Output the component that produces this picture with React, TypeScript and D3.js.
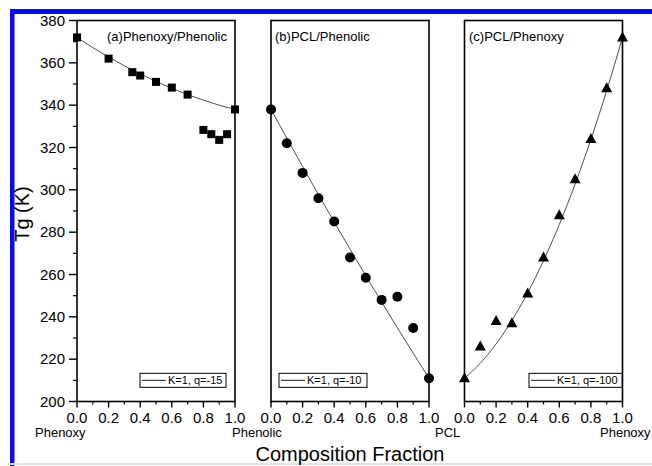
import React from "react";
import * as d3 from "d3";

// composition fraction, shared by all panels
const xTicks = [0, 0.2, 0.4, 0.6, 0.8, 1.0];
const yTicks = [200, 220, 240, 260, 280, 300, 320, 340, 360, 380];

// (a) Phenoxy/Phenolic
const aX = [0, 0.2, 0.35, 0.4, 0.5, 0.6, 0.7, 0.8, 0.85, 0.9, 0.95, 1.0];
const aTg = [372, 362, 355.6, 354, 351, 348.3, 345, 328.3, 326.3, 323.6, 326.3, 338];
// (b) PCL/Phenolic
const bX = [0, 0.1, 0.2, 0.3, 0.4, 0.5, 0.6, 0.7, 0.8, 0.9, 1.0];
const bTg = [338, 322, 308, 296, 285, 268, 258.5, 248, 249.5, 234.7, 211];
// (c) PCL/Phenoxy
const cX = [0, 0.1, 0.2, 0.3, 0.4, 0.5, 0.6, 0.7, 0.8, 0.9, 1.0];
const cTg = [211, 226, 238, 237, 251, 268, 288, 305, 324, 348, 372];

// Kwei fit curves
const fitX = [0, 0.1, 0.2, 0.3, 0.4, 0.5, 0.6, 0.7, 0.8, 0.9, 1.0];
const aFit = [372, 367.2, 362.8, 358.6, 354.8, 351.2, 348, 345, 342.4, 340, 338];
const bFit = [338, 324.4, 311, 297.8, 284.8, 272, 259.4, 247, 234.8, 222.8, 211];
const cFit = [211, 218.1, 227.2, 238.3, 251.4, 266.5, 283.6, 302.7, 323.8, 346.9, 372];

const titles = ["(a)Phenoxy/Phenolic", "(b)PCL/Phenolic", "(c)PCL/Phenoxy"];
const legends = ["K=1, q=-15", "K=1, q=-10", "K=1, q=-100"];
const endLabels = ["Phenoxy", "Phenolic", "PCL", "Phenoxy"];

const font = "Arial, 'Liberation Sans', sans-serif";

const panels = [
  { left: 77, xs: aX, ys: aTg, fit: aFit, marker: "square", titleX: 107, legX: 140, legW: 86 },
  { left: 271, xs: bX, ys: bTg, fit: bFit, marker: "circle", titleX: 275, legX: 279, legW: 88 },
  { left: 464.5, xs: cX, ys: cTg, fit: cFit, marker: "triangle", titleX: 469, legX: 529, legW: 93 },
];

const pw = 158;
const top = 20.5;
const bottom = 401.5;

const y = d3.scaleLinear().domain([200, 380]).range([bottom, top]);

function Marker({ kind, cx, cy }: { kind: string; cx: number; cy: number }) {
  if (kind === "square") return <rect x={cx - 4} y={cy - 4} width={8} height={8} fill="black" />;
  if (kind === "circle") return <circle cx={cx} cy={cy} r={5} fill="black" />;
  return <path d={`M${cx},${cy - 6}L${cx + 5.5},${cy + 4}L${cx - 5.5},${cy + 4}Z`} fill="black" />;
}

function Panel({ p, i }: { p: any; i: number }) {
  const x = d3.scaleLinear().domain([0, 1]).range([p.left, p.left + pw]);
  const minor = d3.range(0.1, 1, 0.2);
  const fitLine = d3
    .line<number>()
    .x((_, k) => x(fitX[k]))
    .y((d) => y(d))
    .curve(d3.curveMonotoneX);
  return (
    <g>
      <path d={fitLine(p.fit) || ""} fill="none" stroke="#222" strokeWidth={0.8} />
      <rect x={p.left} y={top} width={pw} height={bottom - top} fill="none" stroke="black" strokeWidth={1.6} />
      {xTicks.map((t) => (
        <g key={t}>
          <line x1={x(t)} x2={x(t)} y1={bottom} y2={bottom + 6} stroke="black" strokeWidth={1.4} />
          <text x={x(t)} y={bottom + 21} textAnchor="middle" fontSize={15} fontFamily={font}>
            {t.toFixed(1)}
          </text>
        </g>
      ))}
      {minor.map((t) => (
        <line key={t} x1={x(t)} x2={x(t)} y1={bottom} y2={bottom + 3} stroke="black" strokeWidth={1.2} />
      ))}
      <text x={p.titleX} y={41} fontSize={13} fontFamily={font}>
        {titles[i]}
      </text>
      <rect x={p.legX} y={y(210) - 7} width={p.legW} height={14} fill="white" stroke="black" strokeWidth={1} />
      <line x1={p.legX + 2} x2={p.legX + 26} y1={y(210)} y2={y(210)} stroke="black" strokeWidth={0.9} />
      <text x={p.legX + 28} y={y(210) + 4} fontSize={11} fontFamily={font}>
        {legends[i]}
      </text>
      {p.xs.map((d: number, k: number) => (
        <Marker key={k} kind={p.marker} cx={x(d)} cy={y(p.ys[k])} />
      ))}
    </g>
  );
}

export default function App() {
  const minorY = d3.range(210, 380, 20);
  return (
    <svg
      width={652}
      height={466}
      style={{ position: "absolute", left: 0, top: 0, background: "white" }}
    >
      <rect x={10} y={9} width={642} height={5} fill="#0a0af0" />
      <rect x={10} y={9} width={4.5} height={457} fill="#0a0af0" />
      <line x1={10} x2={652} y1={464} y2={464} stroke="#e4e4ec" strokeWidth={2} />
      {panels.map((p, i) => (
        <Panel key={i} p={p} i={i} />
      ))}
      {yTicks.map((t) => (
        <g key={t}>
          <line x1={69} x2={77} y1={y(t)} y2={y(t)} stroke="black" strokeWidth={1.4} />
          <text x={65} y={y(t) + 5} textAnchor="end" fontSize={15} fontFamily={font}>
            {t}
          </text>
        </g>
      ))}
      {minorY.map((t) => (
        <line key={t} x1={73} x2={77} y1={y(t)} y2={y(t)} stroke="black" strokeWidth={1.2} />
      ))}
      <text x={35} y={437} fontSize={13} fontFamily={font}>{endLabels[0]}</text>
      <text x={232} y={437} fontSize={13} fontFamily={font}>{endLabels[1]}</text>
      <text x={435} y={437} fontSize={13} fontFamily={font}>{endLabels[2]}</text>
      <text x={600} y={437} fontSize={13} fontFamily={font}>{endLabels[3]}</text>
      <text x={350} y={461} textAnchor="middle" fontSize={20} fontFamily={font}>
        Composition Fraction
      </text>
      <text
        transform="translate(29,214) rotate(-90)"
        textAnchor="middle"
        fontSize={20}
        fontFamily={font}
      >
        Tg (K)
      </text>
    </svg>
  );
}
